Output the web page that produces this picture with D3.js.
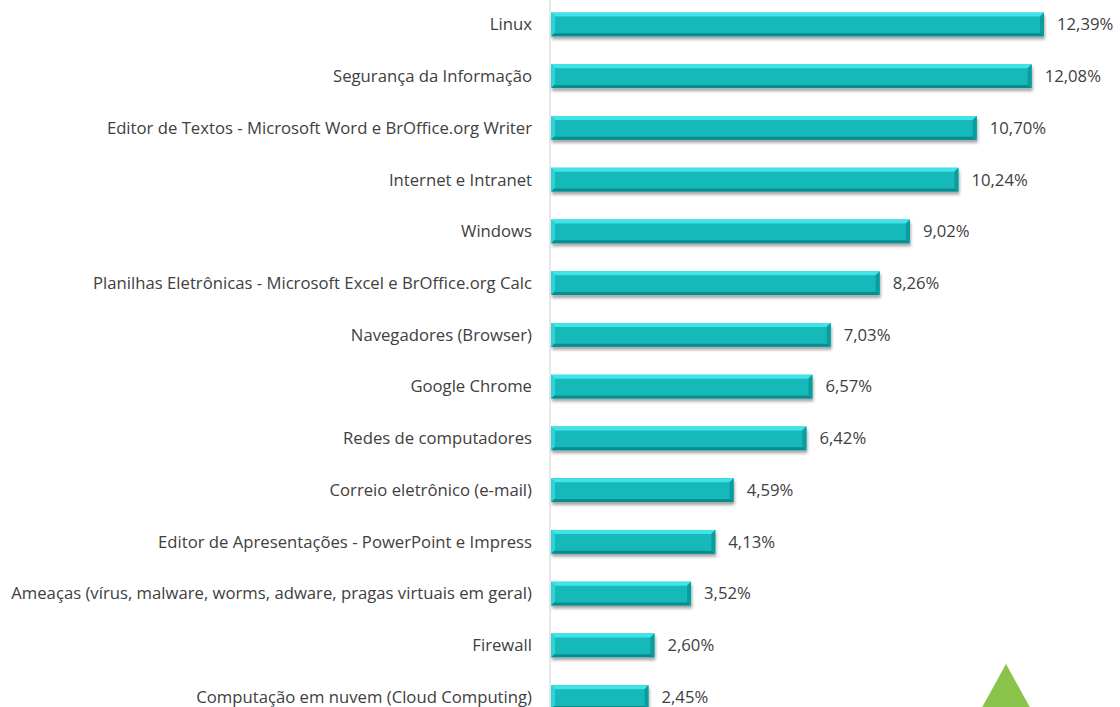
<!DOCTYPE html>
<html>
<head>
<meta charset="utf-8">
<script src="https://cdn.jsdelivr.net/npm/d3@7"></script>
<style>
  html, body { margin: 0; padding: 0; background: #fff; }
  svg { display: block; }
  text { font-family: "Open Sans", Lato, sans-serif; }
</style>
</head>
<body>
<div id="chart"></div>
<script>
const categories = [
  "Linux",
  "Segurança da Informação",
  "Editor de Textos - Microsoft Word e BrOffice.org Writer",
  "Internet e Intranet",
  "Windows",
  "Planilhas Eletrônicas - Microsoft Excel e BrOffice.org Calc",
  "Navegadores (Browser)",
  "Google Chrome",
  "Redes de computadores",
  "Correio eletrônico (e-mail)",
  "Editor de Apresentações - PowerPoint e Impress",
  "Ameaças (vírus, malware, worms, adware, pragas virtuais em geral)",
  "Firewall",
  "Computação em nuvem (Cloud Computing)"
];
const values = [12.39, 12.08, 10.70, 10.24, 9.02, 8.26, 7.03, 6.57, 6.42, 4.59, 4.13, 3.52, 2.60, 2.45];

const width = 1120, height = 707;
const axisX = 551;
const fontSize = 16.7;

const svg = d3.select("#chart").append("svg")
  .attr("width", width).attr("height", height);

const defs = svg.append("defs");
const shadow = defs.append("filter").attr("id", "shadow")
  .attr("x", "-5%").attr("y", "-30%").attr("width", "115%").attr("height", "180%");
shadow.append("feDropShadow").attr("dx", 1).attr("dy", 3).attr("stdDeviation", 1.6)
  .attr("flood-color", "#000").attr("flood-opacity", 0.35);

const x = d3.scaleLinear().domain([0, 12.39]).range([axisX, 1044]);
const y = d3.scaleBand().domain(categories).range([-1.4, 722.9])
  .paddingInner(0.54).paddingOuter(0.27);

// axis line
svg.append("line")
  .attr("x1", axisX - 1).attr("x2", axisX - 1)
  .attr("y1", 0).attr("y2", height)
  .attr("stroke", "#d9d9d9").attr("stroke-width", 1.2);

const data = categories.map((c, i) => ({ name: c, value: values[i] }));
const bw = y.bandwidth();
const bev = 4;

const bars = svg.append("g").selectAll("g.bar").data(data).join("g")
  .attr("class", "bar")
  .attr("transform", d => `translate(0,${y(d.name)})`);

bars.append("rect")
  .attr("x", axisX).attr("y", 0)
  .attr("width", d => x(d.value) - axisX).attr("height", bw)
  .attr("fill", "#14b9ba").attr("filter", "url(#shadow)");

// top bevel
bars.append("polygon")
  .attr("points", d => {
    const x1 = x(d.value);
    return `${axisX},0 ${x1},0 ${x1 - bev},${bev} ${axisX + bev},${bev}`;
  })
  .attr("fill", "#3fe3e8");
// bottom bevel
bars.append("polygon")
  .attr("points", d => {
    const x1 = x(d.value);
    return `${axisX},${bw} ${x1},${bw} ${x1 - bev + 1},${bw - bev + 1} ${axisX + bev - 1},${bw - bev + 1}`;
  })
  .attr("fill", "#0a8c8e");
// left bevel
bars.append("polygon")
  .attr("points", `${axisX},0 ${axisX + bev},${bev} ${axisX + bev},${bw - bev} ${axisX},${bw}`)
  .attr("fill", "#2fd3d6");
// right bevel
bars.append("polygon")
  .attr("points", d => {
    const x1 = x(d.value);
    return `${x1},0 ${x1},${bw} ${x1 - bev},${bw - bev} ${x1 - bev},${bev}`;
  })
  .attr("fill", "#0b9c9e");

// category labels
svg.append("g").selectAll("text").data(data).join("text")
  .attr("x", 532)
  .attr("y", d => y(d.name) + bw / 2)
  .attr("dy", "0.35em")
  .attr("text-anchor", "end")
  .attr("font-size", fontSize)
  .attr("fill", "#404040")
  .text(d => d.name);

// value labels
const fmt = v => v.toFixed(2).replace(".", ",") + "%";
svg.append("g").selectAll("text").data(data).join("text")
  .attr("x", d => x(d.value) + 13)
  .attr("y", d => y(d.name) + bw / 2)
  .attr("dy", "0.35em")
  .attr("font-size", fontSize)
  .attr("fill", "#404040")
  .text(d => fmt(d.value));

// green triangle marker
svg.append("path")
  .attr("d", "M1006,664 L1043,731 L969,731 Z")
  .attr("fill", "#8bc34a");
</script>
</body>
</html>
